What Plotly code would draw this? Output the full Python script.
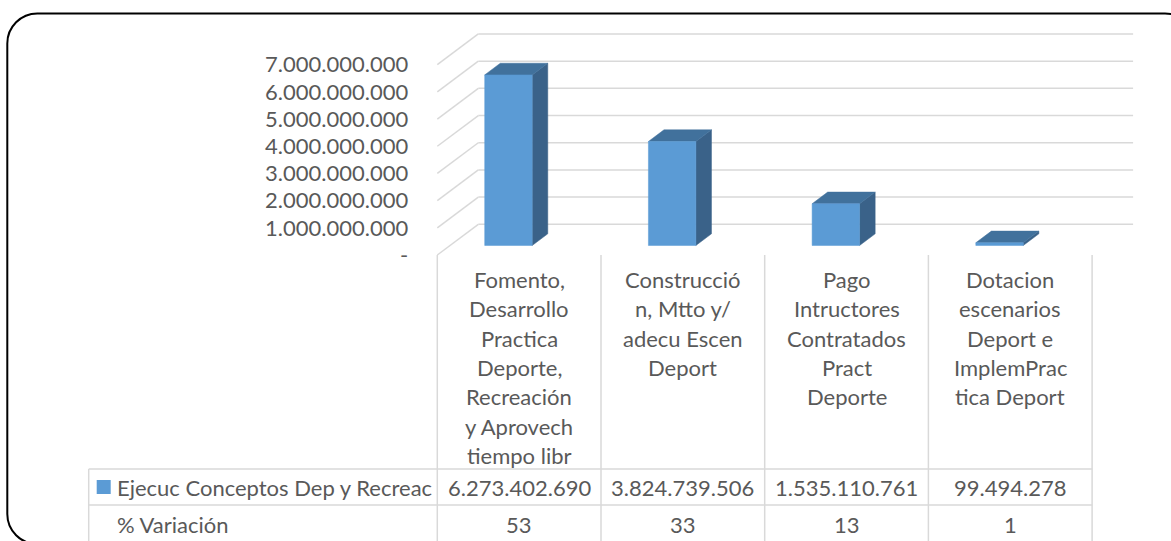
import plotly.graph_objects as go

# datos
categorias = [
    "Fomento,\nDesarrollo\nPractica\nDeporte,\nRecreación\ny Aprovech\ntiempo libr",
    "Construcció\nn, Mtto y/\nadecu Escen\nDeport",
    "Pago\nIntructores\nContratados\nPract\nDeporte",
    "Dotacion\nescenarios\nDeport e\nImplemPrac\ntica Deport",
]
ejecucion = [6273402690, 3824739506, 1535110761, 99494278]
variacion = [53, 33, 13, 1]
serie1 = "Ejecuc Conceptos Dep y Recreac"
serie2 = "% Variación"
ticks_y = [0, 1e9, 2e9, 3e9, 4e9, 5e9, 6e9, 7e9]

W, H = 1171, 541
FONT = "Lato"
FS = 22
GRIS = "#595959"
LINEA = "#d9d9d9"
AZUL = "#5B9BD5"
AZUL_TOP = "#41719C"
AZUL_LADO = "#3A6289"

# proyeccion pseudo 3D (en unidades de los ejes)
x_izq_px, col_px = 437.3, 163.7
y0_px, px_por_unidad = 255.0, 27.19e-9
prof_x = 41 / col_px          # desplazamiento en x de la pared del fondo
prof_y = 30.7 / px_por_unidad  # desplazamiento en y de la pared del fondo
d0, d1 = 0.31, 0.69            # profundidad de la barra
bx, bw = 0.212, 0.29           # posicion y ancho de barra dentro de la categoria

def fmt(v):
    return "-" if v == 0 else f"{v:,.0f}".replace(",", ".")

fig = go.Figure()

def poli(xs, ys, color):
    fig.add_trace(go.Scatter(x=xs + [xs[0]], y=ys + [ys[0]], mode="lines", fill="toself",
                             fillcolor=color, line=dict(color=color, width=0.5),
                             hoverinfo="skip", showlegend=False))

def linea(xs, ys, color=LINEA, width=1.5, ejes=("x", "y")):
    fig.add_trace(go.Scatter(x=xs, y=ys, mode="lines", line=dict(color=color, width=width),
                             hoverinfo="skip", showlegend=False, xaxis=ejes[0], yaxis=ejes[1]))

n = len(categorias)
# cuadricula: pared del fondo y pared izquierda
for v in ticks_y:
    linea([-0.5 + prof_x, n - 0.5 + prof_x], [v + prof_y, v + prof_y])
    linea([-0.5, -0.5 + prof_x], [v, v + prof_y])

# barras 3D
for i, v in enumerate(ejecucion):
    xl = i - 0.5 + bx
    xa, xb = xl + d0 * prof_x, xl + bw + d0 * prof_x
    xc, xd = xl + d1 * prof_x, xl + bw + d1 * prof_x
    ya, yb = d0 * prof_y, d1 * prof_y
    poli([xb, xd, xd, xb], [ya, yb, v + yb, v + ya], AZUL_LADO)
    poli([xa, xb, xd, xc], [v + ya, v + ya, v + yb, v + yb], AZUL_TOP)
    poli([xa, xb, xb, xa], [ya, ya, v + ya, v + ya], AZUL)

# tabla de datos (eje x en categorias, eje y2 en pixeles)
fila1, fila2, fin = 469, 505, 560
izq_tabla = -0.5 - (x_izq_px - 88.7) / col_px
for i in range(n + 1):
    linea([i - 0.5, i - 0.5], [y0_px, fin], ejes=("x", "y2"))
linea([izq_tabla, izq_tabla], [fila1, fin], ejes=("x", "y2"))
for yy in [fila1, fila2]:
    linea([izq_tabla, n - 0.5], [yy, yy], ejes=("x", "y2"))

fuente = dict(family=FONT, size=FS, color=GRIS)
anot = []
for i, cat in enumerate(categorias):
    for k, txt in enumerate(cat.split("\n")):
        anot.append(dict(x=i, y=279.5 + k * 29.3, xref="x", yref="y2", text=txt, showarrow=False,
                         xanchor="center", yanchor="middle", font=fuente))
    anot.append(dict(x=i, y=487, xref="x", yref="y2", text=fmt(ejecucion[i]), showarrow=False,
                     xanchor="center", yanchor="middle", font=fuente))
    anot.append(dict(x=i, y=524, xref="x", yref="y2", text=str(variacion[i]), showarrow=False,
                     xanchor="center", yanchor="middle", font=fuente))
for yy, txt in [(487, serie1), (524, serie2)]:
    anot.append(dict(x=114.5, y=yy, xref="x2", yref="y2", text=txt, showarrow=False,
                     xanchor="left", yanchor="middle", font=fuente))

# clave de leyenda
fig.add_trace(go.Scatter(x=[103.7], y=[487], mode="markers", xaxis="x2", yaxis="y2",
                         marker=dict(symbol="square", size=14, color=AZUL, line=dict(width=0)),
                         hoverinfo="skip", showlegend=False))

# borde redondeado del grafico
l, t, r, b, rad = 7.3, 13.5, 1195, 544, 30
k = 0.552 * rad
borde = (f"M {l},{t + rad} C {l},{t + rad - k} {l + rad - k},{t} {l + rad},{t} "
         f"L {r - rad},{t} C {r - rad + k},{t} {r},{t + rad - k} {r},{t + rad} "
         f"L {r},{b - rad} C {r},{b - rad + k} {r - rad + k},{b} {r - rad},{b} "
         f"L {l + rad},{b} C {l + rad - k},{b} {l},{b - rad + k} {l},{b - rad} Z")

x0 = -0.5 - x_izq_px / col_px
fig.update_layout(
    width=W, height=H, margin=dict(l=0, r=0, t=0, b=0),
    paper_bgcolor="white", plot_bgcolor="white", showlegend=False,
    xaxis=dict(range=[x0, x0 + W / col_px], domain=[0, 1], visible=False),
    yaxis=dict(range=[-(H - y0_px) / px_por_unidad, y0_px / px_por_unidad], domain=[0, 1],
               anchor="free", position=x_izq_px / W, tickvals=ticks_y,
               ticktext=[fmt(v) for v in ticks_y], showgrid=False, zeroline=False,
               showline=False, ticks="", ticklabelstandoff=29, tickfont=fuente),
    xaxis2=dict(range=[0, W], overlaying="x", anchor="y2", visible=False),
    yaxis2=dict(range=[H, 0], overlaying="y", anchor="x2", visible=False),
    annotations=anot,
    shapes=[dict(type="path", path=borde, xref="x2", yref="y2",
                 line=dict(color="black", width=2), fillcolor="rgba(0,0,0,0)")],
)

fig.write_html("out.html", config={"displayModeBar": False},
               post_script="document.body.style.margin='0';")
